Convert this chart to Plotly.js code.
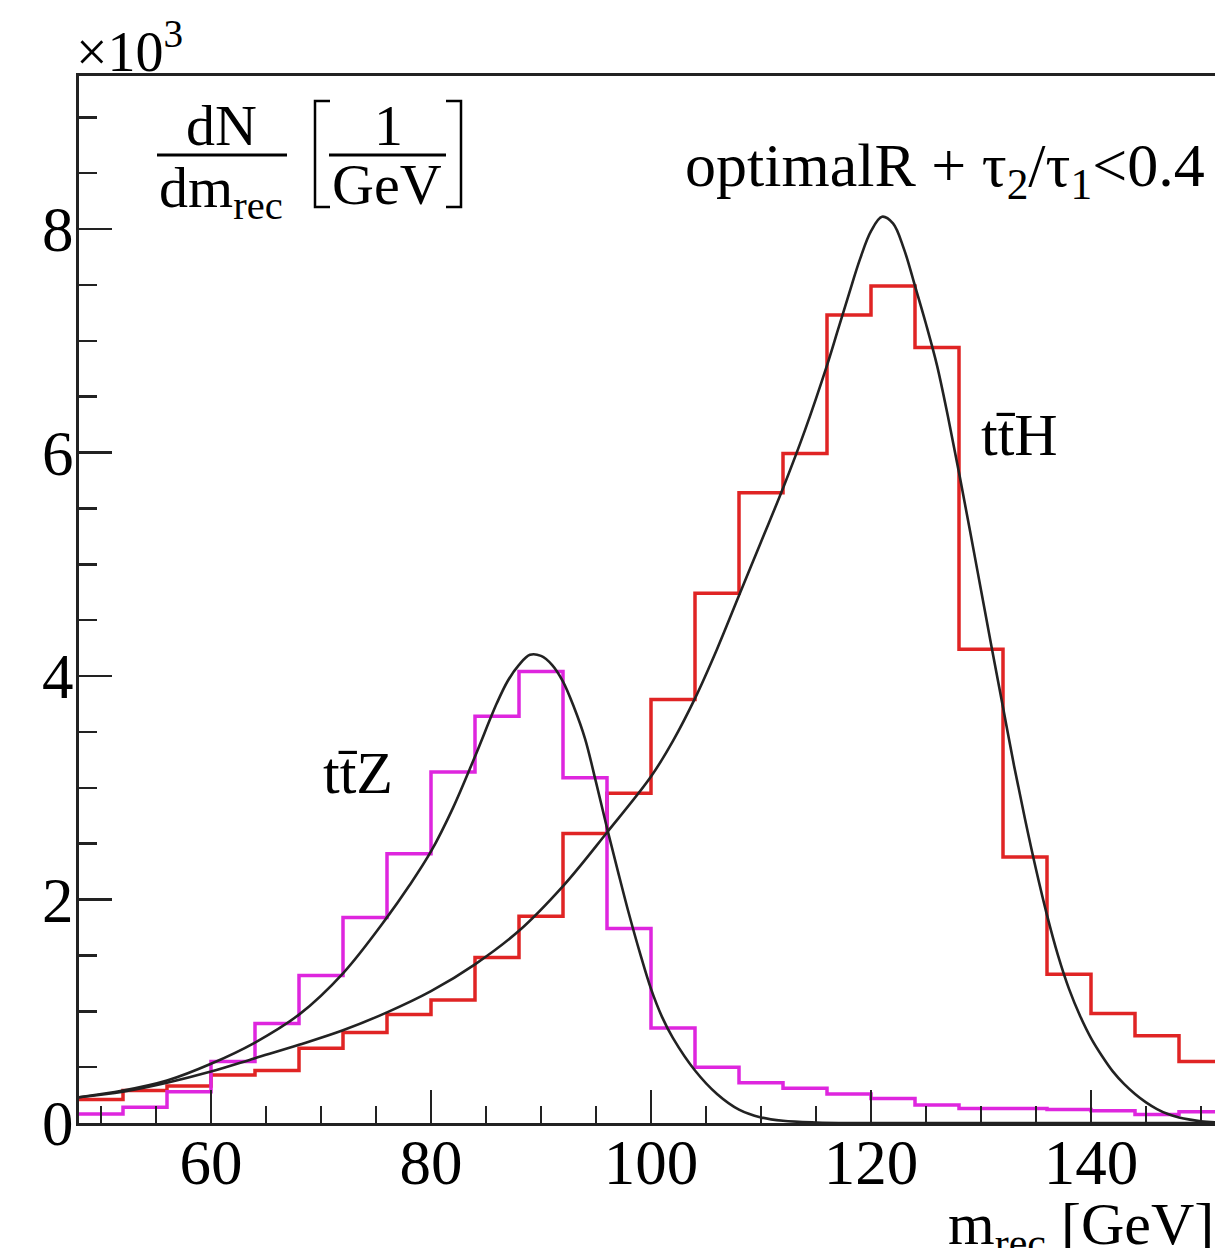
<!DOCTYPE html>
<html><head><meta charset="utf-8">
<script src="https://cdn.plot.ly/plotly-3.0.1.min.js"></script>
<style>html,body{margin:0;padding:0;background:#fff;overflow:hidden}#chart{width:1215px;height:1248px}</style>
</head><body><div id="chart"></div>
<script>
// ---- data (values in units of 10^3 per GeV) ----
const binEdges = [48,52,56,60,64,68,72,76,80,84,88,92,96,100,104,108,112,116,120,124,128,132,136,140,144,148,152];
const ttH = [0.21,0.29,0.33,0.43,0.47,0.67,0.81,0.97,1.10,1.48,1.85,2.59,2.95,3.79,4.74,5.64,5.99,7.23,7.49,6.94,4.24,2.38,1.33,0.98,0.78,0.55];
const ttZ = [0.08,0.14,0.28,0.55,0.89,1.32,1.84,2.41,3.14,3.64,4.04,3.09,1.74,0.85,0.50,0.36,0.31,0.26,0.22,0.16,0.13,0.13,0.12,0.11,0.075,0.10];
const fitZx = [48,52,56,60,64,68,72,76,78,80,82,84,86,87,88,89,90,91,92,93,94,95,96,97,98,99,100,101,102,104,106,108,110,112,115,118,130,140,151.3];
const fitZy = [0.23,0.29,0.38,0.53,0.72,0.97,1.34,1.84,2.12,2.43,2.82,3.28,3.76,3.96,4.10,4.19,4.18,4.10,3.95,3.72,3.44,3.05,2.64,2.25,1.87,1.52,1.20,0.95,0.76,0.47,0.26,0.12,0.05,0.02,0.005,0,0,0,0];
const fitHx = [48,52,56,60,64,68,72,76,80,84,88,92,96,100,102,104,106,108,110,112,114,116,117,118,119,120,121,122,123,124,125,126,127,128,129,130,131,132,133,134,135,136,137,138,139,140,141,142,143,144,145,146,147,148,149,150,151.3];
const fitHy = [0.23,0.28,0.36,0.46,0.58,0.70,0.83,0.99,1.18,1.42,1.72,2.12,2.60,3.10,3.42,3.80,4.24,4.72,5.20,5.68,6.20,6.78,7.10,7.42,7.73,7.98,8.11,8.05,7.82,7.49,7.15,6.78,6.32,5.82,5.30,4.77,4.24,3.72,3.20,2.72,2.27,1.86,1.50,1.20,0.96,0.76,0.60,0.46,0.35,0.26,0.185,0.125,0.08,0.05,0.03,0.015,0.006];
const xTickVals = [60,80,100,120,140];
const yTickVals = [0,2,4,6,8];
const labelZ = 'tt\u0304Z';
const labelH = 'tt\u0304H';

// ---- layout geometry ----
const W = 1215, H = 1248, L = 79, R = 0, T = 76, B = 125;
const pw = W - L - R, ph = H - T - B;
const px = v => (v - L) / pw;
const py = v => 1 - (v - T) / ph;
const FONT = 'Liberation Serif, Times New Roman, serif';

const withLast = a => a.concat([a[a.length - 1]]);

const traces = [
  {x: binEdges, y: withLast(ttH), mode: 'lines', line: {shape: 'hv', color: 'rgb(224,36,36)', width: 3.5}, hoverinfo: 'skip'},
  {x: binEdges, y: withLast(ttZ), mode: 'lines', line: {shape: 'hv', color: 'rgb(222,38,222)', width: 3.5}, hoverinfo: 'skip'},
  {x: fitZx, y: fitZy, mode: 'lines', line: {shape: 'spline', smoothing: 1, color: '#222', width: 2.6}, hoverinfo: 'skip'},
  {x: fitHx, y: fitHy, mode: 'lines', line: {shape: 'spline', smoothing: 1, color: '#222', width: 2.6}, hoverinfo: 'skip'}
];

const ann = (text, x, y, xa, ya, size) => ({
  text, xref: 'paper', yref: 'paper', x: px(x), y: py(y), xanchor: xa, yanchor: ya,
  showarrow: false, font: {family: FONT, size, color: '#000'}
});

const annotations = [
  ann('\u00d710<sup>3</sup>', 74, 48, 'left', 'middle', 56),
  ann('optimalR + \u03c4<sub>2</sub>/\u03c4<sub>1</sub>&lt;0.4', 1207, 170, 'right', 'middle', 62),
  ann(labelZ, 358, 773, 'center', 'middle', 60),
  ann(labelH, 1019, 435, 'center', 'middle', 60),
  ann('m<sub>rec</sub> [GeV]', 1216, 1228, 'right', 'middle', 60),
  ann('dN', 221, 126, 'center', 'middle', 58),
  ann('dm<sub>rec</sub>', 221, 192, 'center', 'middle', 58),
  ann('1', 388, 126, 'center', 'middle', 58),
  ann('GeV', 387, 184, 'center', 'middle', 58)
];

const lineShape = (x0, x1, y) => ({type: 'line', xref: 'paper', yref: 'paper', x0: px(x0), x1: px(x1), y0: py(y), y1: py(y), line: {color: '#000', width: 3}});
const pathShape = pts => ({type: 'path', xref: 'paper', yref: 'paper',
  path: pts.map((p, i) => (i ? 'L' : 'M') + px(p[0]) + ',' + py(p[1])).join(' '),
  line: {color: '#000', width: 2.5}});

const shapes = [
  lineShape(157, 287, 155),
  lineShape(329, 446, 155),
  pathShape([[330, 101], [315, 101], [315, 207], [330, 207]]),
  pathShape([[446, 101], [461, 101], [461, 207], [446, 207]])
];

const axisCommon = {
  showgrid: false, zeroline: false, showline: true, linecolor: '#222', linewidth: 3,
  ticks: 'inside', tickcolor: '#222', tickwidth: 2.5, ticklen: 33,
  tickfont: {family: FONT, size: 63, color: '#000'}
};

const layout = {
  width: W, height: H, margin: {l: L, r: R, t: T, b: B, pad: 0},
  paper_bgcolor: '#fff', plot_bgcolor: '#fff', showlegend: false,
  xaxis: Object.assign({}, axisCommon, {
    range: [48, 48 + pw / 11], tickvals: xTickVals, mirror: true,
    minor: {ticks: 'inside', dtick: 5, tick0: 0, ticklen: 17, tickwidth: 2.5, tickcolor: '#222'},
    ticklabelstandoff: -18
  }),
  yaxis: Object.assign({}, axisCommon, {
    range: [0, (1123 - 76) / 111.75], tickvals: yTickVals, mirror: false,
    minor: {ticks: 'inside', dtick: 0.5, tick0: 0, ticklen: 18, tickwidth: 2.5, tickcolor: '#222'},
    ticklabelstandoff: -10
  }),
  annotations, shapes
};

Plotly.newPlot('chart', traces, layout, {staticPlot: true, displayModeBar: false});
</script>
</body></html>
